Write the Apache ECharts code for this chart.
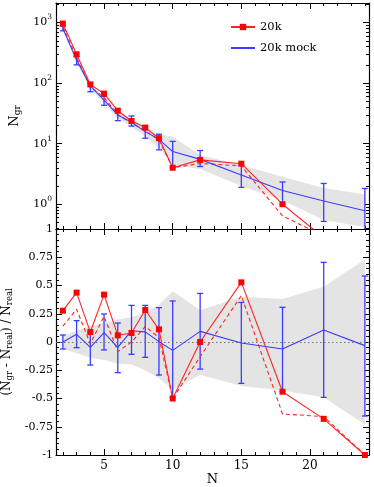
<!DOCTYPE html>
<html>
<head>
<meta charset="utf-8">
<script src="https://cdn.jsdelivr.net/npm/echarts@6/dist/echarts.min.js"></script>
<style>
  html, body { margin: 0; padding: 0; background: #fff; }
  #chart { width: 374px; height: 487px; }
</style>
</head>
<body>
<div id="chart"></div>
<script>
// group richness N
var N = [2, 3, 4, 5, 6, 7, 8, 9, 10, 12, 15, 18, 21, 24];

// top panel: number of groups
var gr20k      = [960, 299, 95, 67, 35, 23.7, 18.4, 12.3, 4.0, 5.4, 4.67, 1.0, 0.28, '-'];
var gr20kDash  = [857, 268, 86, 58, 30, 22, 16.3, 11.5, 4.0, 4.7, 4.3, 0.64, 0.3, '-'];
var grMock     = [800, 240, 90, 52.5, 29.8, 22.6, 15.8, 11.8, 7.4, 5.5, 3.05, 1.68, 1.13, 0.78];
var grMockHi   = [875, 274, 101, 60.5, 37, 28.6, 19.6, 14.3, 10.9, 7.7, 4.4, 2.33, 2.2, 1.82];
var grMockLo   = [730, 200, 72, 43, 24, 19.5, 12.3, 7.9, 4.0, 4.2, 1.9, 1.0, 0.52, 0.3];
var grBandHi   = [880, 265, 98, 58, 34, 26, 19, 14.5, 13, 6.5, 4.4, 2.85, 1.85, 1.45];
var grBandLo   = [720, 215, 80, 46, 26, 19, 13, 8.5, 4.5, 3.8, 2.0, 1.15, 0.55, 0.42];

// bottom panel: (Ngr - Nreal) / Nreal
var rel20k     = [0.277, 0.437, 0.088, 0.419, 0.059, 0.08, 0.283, 0.112, -0.5, 0.0, 0.528, -0.44, -0.68, -1.0];
var rel20kDash = [0.14, 0.29, -0.015, 0.227, -0.085, 0.0, 0.136, 0.04, -0.5, -0.13, 0.41, -0.637, -0.66, -1.0];
var relMock    = [0, 0.068, -0.047, 0.083, -0.047, 0.1, 0.09, 0.003, -0.074, 0.094, -0.009, -0.062, 0.106, -0.032];
var relMockHi  = [0.062, 0.189, 0.086, 0.248, 0.168, 0.324, 0.324, 0.304, 0.363, 0.43, 0.35, 0.307, 0.705, 0.584];
var relMockLo  = [-0.062, -0.05, -0.204, -0.07, -0.271, -0.109, -0.136, -0.292, -0.49, -0.24, -0.366, -0.44, -0.49, -0.655];
var relBandHi  = [0.05, 0.1, 0.14, 0.17, 0.2, 0.22, 0.26, 0.33, 0.45, 0.28, 0.4, 0.38, 0.49, 0.73];
var relBandLo  = [-0.06, -0.1, -0.14, -0.16, -0.19, -0.2, -0.25, -0.32, -0.42, -0.29, -0.39, -0.43, -0.49, -0.73];

// ticks
var xMajor = [5, 10, 15, 20];
var xMinor = [2, 3, 4, 6, 7, 8, 9, 11, 12, 13, 14, 16, 17, 18, 19, 21, 22, 23, 24];
var logMajor = [1, 10, 100, 1000];
var logMinor = [0.4, 0.5, 0.6, 0.7, 0.8, 0.9, 2, 3, 4, 5, 6, 7, 8, 9,
                20, 30, 40, 50, 60, 70, 80, 90, 200, 300, 400, 500, 600, 700, 800, 900, 2000];

var FONT = 'DejaVu Serif';
var RED = '#ff2424';
var BLUE = '#3b3bff';
var BAND = '#e4e4e4';
var XMIN = 1.5, XMAX = 24.3;

function pairs(ys) {
  return N.map(function (n, i) { return [n, ys[i]]; });
}

function xAx(grid, pos, vals, len, showLine, withLabels) {
  return {
    type: 'value', gridIndex: grid, position: pos, min: XMIN, max: XMAX,
    axisLine: { show: showLine, onZero: false, lineStyle: { color: '#000', width: 1.2 } },
    axisTick: { show: true, inside: true, length: len, customValues: vals, lineStyle: { color: '#000', width: 1 } },
    axisLabel: withLabels ? { show: true, customValues: xMajor, margin: 5, color: '#000', fontFamily: FONT, fontSize: 12 } : { show: false },
    splitLine: { show: false },
    name: withLabels ? 'N' : '', nameLocation: 'middle', nameGap: 17,
    nameTextStyle: { color: '#000', fontFamily: FONT, fontSize: 13 }
  };
}

function logAx(pos, vals, len, showLine, withLabels) {
  return {
    type: 'log', logBase: 10, gridIndex: 0, position: pos, min: 0.39, max: 2100,
    axisLine: { show: showLine, onZero: false, lineStyle: { color: '#000', width: 1.2 } },
    axisTick: { show: true, inside: true, length: len, customValues: vals, lineStyle: { color: '#000', width: 1 } },
    axisLabel: withLabels ? {
      show: true, customValues: logMajor, margin: 4, color: '#000',
      formatter: function (v) { return '{b|10}{p|' + Math.round(Math.log10(v)) + '}'; },
      rich: {
        b: { fontFamily: FONT, fontSize: 11, color: '#000' },
        p: { fontFamily: FONT, fontSize: 7.5, color: '#000', padding: [0, 0, 10, 0] }
      }
    } : { show: false },
    splitLine: { show: false },
    name: withLabels ? '{n|N}{s|gr}' : '', nameLocation: 'middle', nameGap: 30,
    nameTextStyle: {
      rich: {
        n: { fontFamily: FONT, fontSize: 13, color: '#000' },
        s: { fontFamily: FONT, fontSize: 9, color: '#000', padding: [7, 0, 0, 0] }
      }
    }
  };
}

function relAx(pos, withLabels) {
  return {
    type: 'value', gridIndex: 1, position: pos, min: -1, max: 1, interval: 0.25,
    axisLine: { show: true, onZero: false, lineStyle: { color: '#000', width: 1.2 } },
    axisTick: { show: true, inside: true, length: 6, lineStyle: { color: '#000', width: 1 } },
    minorTick: { show: true, splitNumber: 5, length: 3, lineStyle: { color: '#000', width: 1 } },
    axisLabel: withLabels ? { show: true, margin: 3, color: '#000', fontFamily: FONT, fontSize: 11 } : { show: false },
    splitLine: { show: false }, minorSplitLine: { show: false },
    name: withLabels ? '{n|(N}{s|gr}{n| - N}{s|real}{n|) / N}{s|real}' : '',
    nameLocation: 'middle', nameGap: 35,
    nameTextStyle: {
      rich: {
        n: { fontFamily: FONT, fontSize: 12, color: '#000' },
        s: { fontFamily: FONT, fontSize: 8.5, color: '#000', padding: [6, 0, 0, 0] }
      }
    }
  };
}

function bandSeries(xi, yi, lo, hi) {
  return {
    type: 'custom', xAxisIndex: xi, yAxisIndex: yi, clip: true, silent: true, z: 1,
    data: N.map(function (n, i) { return [n, lo[i], hi[i]]; }),
    encode: { x: 0, y: [1, 2] },
    renderItem: function (params, api) {
      if (params.dataIndex !== 0) return null;
      var pts = [];
      for (var i = 0; i < N.length; i++) pts.push(api.coord([N[i], hi[i]]));
      for (var j = N.length - 1; j >= 0; j--) pts.push(api.coord([N[j], lo[j]]));
      return { type: 'polygon', shape: { points: pts }, style: { fill: BAND } };
    }
  };
}

function errSeries(xi, yi, lo, hi) {
  return {
    type: 'custom', xAxisIndex: xi, yAxisIndex: yi, clip: true, silent: true, z: 3,
    data: N.map(function (n, i) { return [n, lo[i], hi[i]]; }),
    encode: { x: 0, y: [1, 2] },
    renderItem: function (params, api) {
      var x = api.value(0);
      var a = api.coord([x, api.value(1)]);
      var b = api.coord([x, api.value(2)]);
      var st = { stroke: BLUE, lineWidth: 1.3 };
      return {
        type: 'group', children: [
          { type: 'line', shape: { x1: a[0], y1: a[1], x2: b[0], y2: b[1] }, style: st },
          { type: 'line', shape: { x1: a[0] - 3, y1: a[1], x2: a[0] + 3, y2: a[1] }, style: st },
          { type: 'line', shape: { x1: b[0] - 3, y1: b[1], x2: b[0] + 3, y2: b[1] }, style: st }
        ]
      };
    }
  };
}

function lineSeries(name, xi, yi, ys, color, dashed, marker) {
  return {
    name: name, type: 'line', xAxisIndex: xi, yAxisIndex: yi, data: pairs(ys),
    symbol: marker ? 'rect' : 'none', symbolSize: 6, showSymbol: marker,
    itemStyle: { color: marker ? '#ff0000' : color },
    lineStyle: { color: color, width: 1.1, type: dashed ? [4, 3] : 'solid' },
    clip: true, animation: false, z: dashed ? 4 : 5
  };
}

var chart = echarts.init(document.getElementById('chart'), null, { renderer: 'canvas' });

var mockRel = lineSeries('20k mock', 4, 2, relMock, BLUE, false, false);
mockRel.markLine = {
  symbol: 'none', silent: true, animation: false, label: { show: false },
  lineStyle: { type: [1.5, 2.5], color: '#777', width: 1 },
  data: [{ yAxis: 0 }]
};

chart.setOption({
  animation: false,
  grid: [
    { left: 56, top: 3, width: 313, height: 226, outerBoundsMode: 'none', containLabel: false },
    { left: 56, top: 229, width: 313, height: 226, outerBoundsMode: 'none', containLabel: false }
  ],
  legend: {
    orient: 'vertical', left: 225, top: 16, itemWidth: 24, itemHeight: 8, itemGap: 9,
    textStyle: { fontFamily: FONT, fontSize: 11.5, color: '#000' },
    data: [
      { name: '20k' },
      { name: '20k mock', itemStyle: { color: 'rgba(0,0,0,0)', borderWidth: 0 } }
    ]
  },
  xAxis: [
    xAx(0, 'bottom', xMajor, 6, true, false),
    xAx(0, 'top', xMajor, 6, true, false),
    xAx(0, 'bottom', xMinor, 3, false, false),
    xAx(0, 'top', xMinor, 3, false, false),
    xAx(1, 'bottom', xMajor, 6, true, true),
    xAx(1, 'top', xMajor, 6, true, false),
    xAx(1, 'bottom', xMinor, 3, false, false),
    xAx(1, 'top', xMinor, 3, false, false)
  ],
  yAxis: [
    logAx('left', logMajor, 6, true, true),
    logAx('right', logMajor, 6, true, false),
    relAx('left', true),
    relAx('right', false),
    logAx('left', logMinor, 3, false, false),
    logAx('right', logMinor, 3, false, false)
  ],
  series: [
    bandSeries(0, 0, grBandLo, grBandHi),
    errSeries(0, 0, grMockLo, grMockHi),
    lineSeries('20k mock', 0, 0, grMock, BLUE, false, false),
    lineSeries('20k dashed', 0, 0, gr20kDash, RED, true, false),
    lineSeries('20k', 0, 0, gr20k, RED, false, true),

    bandSeries(4, 2, relBandLo, relBandHi),
    errSeries(4, 2, relMockLo, relMockHi),
    mockRel,
    lineSeries('20k dashed', 4, 2, rel20kDash, RED, true, false),
    lineSeries('20k', 4, 2, rel20k, RED, false, true)
  ]
});
</script>
</body>
</html>
